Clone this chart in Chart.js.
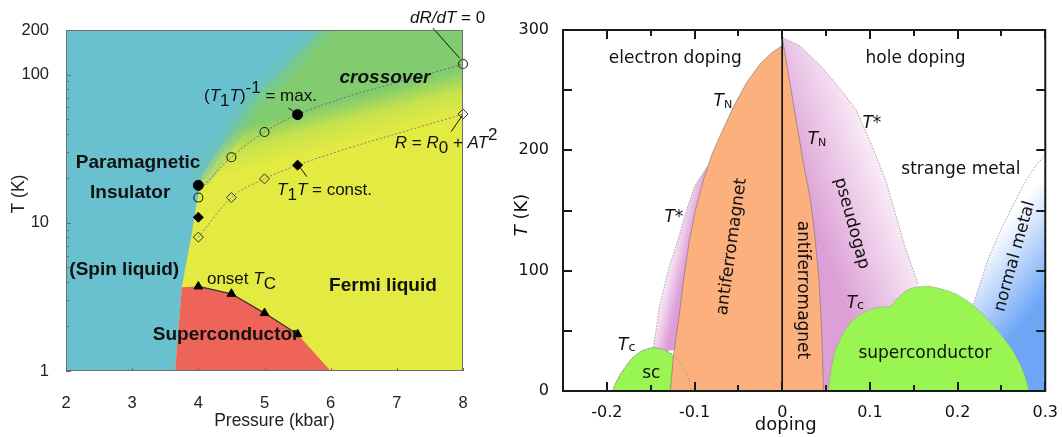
<!DOCTYPE html>
<html>
<head>
<meta charset="utf-8">
<script src="https://cdn.jsdelivr.net/npm/chart.js@4.4.1/dist/chart.umd.min.js"></script>
<style>
  body { margin: 0; background: #fff; }
  #left { position: absolute; left: 0; top: 0; width: 505px; height: 437px; }
  #right { position: absolute; left: 505px; top: 0; width: 557px; height: 437px; }
</style>
</head>
<body>
<div id="left"><canvas id="chartLeft"></canvas></div>
<div id="right"><canvas id="chartRight"></canvas></div>
<script>
const FONT_L = "'Liberation Sans', Arial, sans-serif";
const FONT_R = "'DejaVu Sans', sans-serif";

// ---------- left panel : pressure (kbar) vs T (K), log ----------
const pressureTicks = [2, 3, 4, 5, 6, 7, 8];
const tempTicksLog = [1, 10, 100, 200];
const tempMinorLog = [2, 3, 4, 5, 6, 7, 8, 9, 20, 30, 40, 50, 60, 70, 80, 90];

// metallic region (yellow / green), edge along the cyan insulator
const metalP = [3.65, 3.75, 3.9, 3.98, 4.06, 4.35, 4.8, 5.4, 5.85, 8, 8];
const metalT = [1, 3.68, 8.4, 14, 21, 33, 66, 122, 200, 200, 1];
// upper part of that edge is blurred (crossover)
const blurP = [4.06, 4.35, 4.8, 5.4, 5.85, 6.05];
const blurT = [21, 33, 66, 122, 200, 260];
// superconducting region (red)
const scP = [3.65, 3.75, 4.0, 4.5, 5.0, 5.5, 6.0];
const scT = [1, 3.68, 3.72, 3.32, 2.46, 1.77, 1];

// measured points
const openCircleP = [4, 4.5, 5, 8];
const openCircleT = [14.8, 27.7, 41, 118];
const fullCircleP = [4, 5.5];
const fullCircleT = [17.9, 53.7];
const openDiamondP = [4, 4.5, 5, 8];
const openDiamondT = [8.0, 14.8, 19.8, 54.2];
const fullDiamondP = [4, 5.5];
const fullDiamondT = [10.9, 24.5];
const onsetTcP = [4, 4.5, 5, 5.5];
const onsetTcT = [3.72, 3.32, 2.46, 1.77];

// dotted guide lines
const guideUpP = [4, 4.5, 5, 5.5, 8];
const guideUpT = [16.3, 27.7, 41, 53.7, 118];
const guideLowP = [4, 4.5, 5, 5.5, 8];
const guideLowT = [8.0, 14.8, 19.8, 24.5, 54.2];

// pointer lines from labels to markers
const pointerP = [[7.545, 7.95], [5.36, 5.48], [5.64, 5.51], [7.82, 7.995]];
const pointerT = [[206, 129], [59.5, 55], [20.5, 24.5], [41.2, 53.4]];

// ---------- right panel : doping vs T (K) ----------
const dopingTicks = [-0.2, -0.1, 0, 0.1, 0.2, 0.3];
const dopingMinor = [-0.25, -0.15, -0.05, 0.05, 0.15, 0.25];
const tempTicksLin = [0, 100, 200, 300];
const tempMinorLin = [50, 150, 250];

const afmElecX = [-0.1275, -0.124, -0.118, -0.112, -0.106, -0.099, -0.09, -0.08, -0.069, -0.055, -0.04, -0.025, -0.012, 0, 0];
const afmElecT = [0, 30, 60, 95, 125, 150, 175, 197, 215, 237, 257, 272, 281, 287, 0];
const afmHoleX = [0, 0.012, 0.024, 0.032, 0.037, 0.042, 0.045, 0.047, 0];
const afmHoleT = [294, 242, 190, 160, 130, 92, 50, 0, 0];

const domeElecX = [-0.1935, -0.19, -0.184, -0.177, -0.1695, -0.16, -0.1468, -0.135, -0.1244, -0.117, -0.111, -0.106, -0.104];
const domeElecT = [0, 6.5, 14.7, 22, 28.5, 33.5, 36.3, 34.5, 30, 24.5, 17.5, 9, 0];
const domeHoleX = [0.0526, 0.056, 0.06, 0.0654, 0.072, 0.08, 0.09, 0.099, 0.11, 0.1236, 0.13, 0.1404, 0.15, 0.157, 0.1675, 0.1775, 0.19, 0.2, 0.215, 0.23, 0.2485, 0.262, 0.271, 0.277, 0.2815];
const domeHoleT = [0, 20, 33, 42, 51, 59, 64, 67.3, 69.5, 70, 76, 83, 86, 86.7, 87, 85.5, 83, 80, 73, 63, 48, 35, 23, 12, 0];

const pgElecX = [-0.1468, -0.143, -0.14, -0.134, -0.129, -0.119, -0.111, -0.1, -0.085, -0.09, -0.11, -0.135];
const pgElecT = [36.3, 55, 70, 88, 103, 125, 146, 170, 187, 120, 35, 33];
const pgHoleX = [0, 0.02, 0.044, 0.065, 0.084, 0.1, 0.118, 0.14, 0.155, 0.155, 0];
const pgHoleT = [294, 287, 270, 252, 234, 208, 175, 120, 89, 0, 0];
const nmX = [0.218, 0.235, 0.25, 0.265, 0.278, 0.29, 0.3, 0.3, 0.218];
const nmT = [72, 110, 135, 157, 175, 188, 196, 0, 0];

function pts(xs, ys) { return xs.map((x, i) => ({x: x, y: ys[i]})); }

function drawRuns(ctx, x, y, runs, size, family, align, rot) {
  let parts = [], w = 0;
  runs.forEach(r => {
    const font = (r[1] || '') + ' ' + (size * (r[2] || 1)) + 'px ' + family;
    ctx.font = font;
    const mw = ctx.measureText(r[0]).width;
    parts.push({t: r[0], font: font, w: mw, dy: r[3] || 0});
    w += mw;
  });
  ctx.save();
  ctx.translate(x, y);
  if (rot) ctx.rotate(rot * Math.PI / 180);
  let cx = align === 'center' ? -w / 2 : 0;
  const base = align === 'center' ? size * 0.36 : 0;
  ctx.textAlign = 'left';
  ctx.textBaseline = 'alphabetic';
  parts.forEach(p => { ctx.font = p.font; ctx.fillText(p.t, cx, base + p.dy); cx += p.w; });
  ctx.restore();
}

function gradientFill(p0, p1, stops, fallback) {
  return function(c) {
    const chart = c.chart;
    if (!chart.chartArea) return fallback;
    const xs = chart.scales.x, ys = chart.scales.y;
    const g = chart.ctx.createLinearGradient(
      xs.getPixelForValue(p0[0]), ys.getPixelForValue(p0[1]),
      xs.getPixelForValue(p1[0]), ys.getPixelForValue(p1[1]));
    stops.forEach((s, i) => g.addColorStop(i / (stops.length - 1), s));
    return g;
  };
}

// ---------- left chart ----------
const leftBold = ['Paramagnetic', 'Insulator', '(Spin liquid)', 'Fermi liquid', 'Superconductor'];
const leftBoldP = [3.09, 2.97, 2.88, 6.79, 4.42];
const leftBoldT = [26.1, 16.4, 4.95, 3.87, 1.80];

const leftDecor = {
  id: 'leftDecor',
  beforeDatasetsDraw(chart) {
    const {ctx, chartArea: a} = chart;
    ctx.save();
    ctx.fillStyle = '#69c1d0';
    ctx.fillRect(a.left, a.top, a.right - a.left, a.bottom - a.top);
    ctx.restore();
  },
  afterDraw(chart) {
    const {ctx, chartArea: a, scales: {x, y}} = chart;
    ctx.save();
    ctx.strokeStyle = '#6e6e6e';
    ctx.lineWidth = 1;
    ctx.beginPath();
    tempTicksLog.slice(0, 3).forEach(v => { const py = Math.round(y.getPixelForValue(v)) + 0.5; ctx.moveTo(a.left, py); ctx.lineTo(a.left + 5, py); });
    tempMinorLog.forEach(v => { const py = Math.round(y.getPixelForValue(v)) + 0.5; ctx.moveTo(a.left, py); ctx.lineTo(a.left + 3, py); });
    pressureTicks.forEach(v => { const px = Math.round(x.getPixelForValue(v)) + 0.5; ctx.moveTo(px, a.bottom); ctx.lineTo(px, a.bottom - 3); });
    ctx.stroke();
    ctx.strokeRect(a.left + 0.5, a.top + 0.5, a.right - a.left - 1, a.bottom - a.top - 1);

    ctx.fillStyle = '#111';
    leftBold.forEach((t, i) => drawRuns(ctx, x.getPixelForValue(leftBoldP[i]), y.getPixelForValue(leftBoldT[i]), [[t, 'bold']], 19, FONT_L, 'center'));
    drawRuns(ctx, x.getPixelForValue(6.82), y.getPixelForValue(98), [['crossover', 'italic bold']], 19, FONT_L, 'center');
    const s = 17;
    drawRuns(ctx, x.getPixelForValue(7.2), y.getPixelForValue(223), [['dR/dT', 'italic'], [' = 0']], s, FONT_L, 'left');
    drawRuns(ctx, x.getPixelForValue(4.086), y.getPixelForValue(66), [['('], ['T', 'italic'], ['1', '', 1, 5], ['T', 'italic'], [')'], ['-1', '', 1, -8], [' = max.']], s, FONT_L, 'left');
    drawRuns(ctx, x.getPixelForValue(5.19), y.getPixelForValue(15.4), [['T', 'italic'], ['1', '', 1, 5], ['T', 'italic'], [' = const.']], s, FONT_L, 'left');
    drawRuns(ctx, x.getPixelForValue(6.97), y.getPixelForValue(32), [['R', 'italic'], [' = '], ['R', 'italic'], ['0', '', 1, 5], [' + '], ['AT', 'italic'], ['2', '', 1, -8]], s, FONT_L, 'left');
    drawRuns(ctx, x.getPixelForValue(4.13), y.getPixelForValue(3.87), [['onset '], ['T', 'italic'], ['C', '', 1, 5]], s, FONT_L, 'left');

    ctx.fillStyle = '#222';
    drawRuns(ctx, x.getPixelForValue(5.15), a.bottom + 49, [['Pressure (kbar)']], 17.5, FONT_L, 'center');
    drawRuns(ctx, 18, 194, [['T (K)']], 17.5, FONT_L, 'center', -90);
    ctx.restore();
  }
};

const leftSets = [
  {data: pts(metalP, metalT), showLine: true, fill: 'shape', pointRadius: 0, borderWidth: 0,
   backgroundColor: gradientFill([6.29, 34], [6.12, 66], ['#e3ea42', '#c9e34c', '#80cc6e'], '#e3ea42')},
  {data: pts(blurP, blurT), showLine: true, pointRadius: 0, borderWidth: 22, borderColor: 'rgba(112,198,170,0.35)', borderCapStyle: 'round', borderJoinStyle: 'round'},
  {data: pts(blurP, blurT), showLine: true, pointRadius: 0, borderWidth: 9, borderColor: 'rgba(112,198,170,0.45)', borderCapStyle: 'round', borderJoinStyle: 'round'},
  {data: pts(scP, scT), showLine: true, fill: 'shape', pointRadius: 0, borderWidth: 0, backgroundColor: '#ef6459'},
  {data: pts(guideUpP, guideUpT), showLine: true, pointRadius: 0, borderWidth: 1, borderColor: '#6e6e6e', borderDash: [2, 2], cubicInterpolationMode: 'monotone'},
  {data: pts(guideLowP, guideLowT), showLine: true, pointRadius: 0, borderWidth: 1, borderColor: '#808080', borderDash: [2, 2], cubicInterpolationMode: 'monotone'},
  {data: pts(onsetTcP, onsetTcT), showLine: true, pointRadius: 0, borderWidth: 1.3, borderColor: '#333'}
];
pointerP.forEach((p, i) => leftSets.push({data: pts(p, pointerT[i]), showLine: true, pointRadius: 0, borderWidth: 1, borderColor: '#111', clip: false}));
leftSets.push(
  {data: pts(openCircleP, openCircleT), pointStyle: 'circle', pointRadius: 4.5, pointBorderWidth: 1.1, pointBorderColor: '#222', pointBackgroundColor: 'rgba(0,0,0,0)', clip: false},
  {data: pts(fullCircleP, fullCircleT), pointStyle: 'circle', pointRadius: 5, pointBorderWidth: 1, pointBorderColor: '#000', pointBackgroundColor: '#000'},
  {data: pts(openDiamondP, openDiamondT), pointStyle: 'rectRot', pointRadius: 5, pointBorderWidth: 1, pointBorderColor: '#333', pointBackgroundColor: 'rgba(0,0,0,0)', clip: false},
  {data: pts(fullDiamondP, fullDiamondT), pointStyle: 'rectRot', pointRadius: 5, pointBorderWidth: 1, pointBorderColor: '#000', pointBackgroundColor: '#000'},
  {data: pts(onsetTcP, onsetTcT), pointStyle: 'triangle', pointRadius: 5, pointBorderWidth: 1, pointBorderColor: '#000', pointBackgroundColor: '#000'}
);
leftSets.forEach((d, i) => { d.order = leftSets.length - i; });

new Chart(document.getElementById('chartLeft'), {
  type: 'scatter',
  data: {datasets: leftSets},
  options: {
    responsive: true, maintainAspectRatio: false, animation: false, events: [],
    layout: {padding: {left: 0, top: 30, right: 42, bottom: 0}},
    plugins: {legend: {display: false}, tooltip: {enabled: false}},
    scales: {
      x: {
        type: 'linear', min: 2, max: 8,
        grid: {display: false}, border: {display: false},
        afterBuildTicks: ax => { ax.ticks = pressureTicks.map(v => ({value: v})); },
        afterFit: ax => { ax.height = 66; },
        ticks: {autoSkip: false, maxRotation: 0, padding: 15, color: '#222', font: {family: FONT_L, size: 16.5}}
      },
      y: {
        type: 'logarithmic', min: 1, max: 200,
        grid: {display: false}, border: {display: false},
        afterBuildTicks: ax => { ax.ticks = tempTicksLog.map(v => ({value: v})); },
        afterFit: ax => { ax.width = 66; },
        ticks: {autoSkip: false, padding: 9, color: '#222', font: {family: FONT_L, size: 16.5}, callback: v => String(v)}
      }
    }
  },
  plugins: [leftDecor]
});

// ---------- right chart ----------
const rightPlain = ['electron doping', 'hole doping', 'strange metal', 'sc', 'superconductor'];
const rightPlainX = [-0.1219, 0.152, 0.2038, -0.1493, 0.1627];
const rightPlainT = [277.6, 277.6, 185.3, 15.8, 32.8];
const rightRot = ['antiferromagnet', 'antiferromagnet', 'pseudogap', 'normal metal'];
const rightRotX = [-0.0593, 0.0249, 0.0811, 0.2634];
const rightRotT = [120.1, 83.9, 139.6, 112.2];
const rightRotAngle = [-82, 90, 74.5, -74.5];

const rightDecor = {
  id: 'rightDecor',
  afterDraw(chart) {
    const {ctx, chartArea: a, scales: {x, y}} = chart;
    ctx.save();
    ctx.strokeStyle = '#1a1a1a';
    ctx.lineWidth = 2;
    ctx.beginPath();
    const xt = (v, len) => { const px = Math.round(x.getPixelForValue(v)); ctx.moveTo(px, a.bottom); ctx.lineTo(px, a.bottom - len); ctx.moveTo(px, a.top); ctx.lineTo(px, a.top + len); };
    const yt = (v, len) => { const py = Math.round(y.getPixelForValue(v)); ctx.moveTo(a.left, py); ctx.lineTo(a.left + len, py); ctx.moveTo(a.right, py); ctx.lineTo(a.right - len, py); };
    dopingTicks.forEach(v => xt(v, 9));
    dopingMinor.forEach(v => xt(v, 6));
    tempTicksLin.forEach(v => yt(v, 9));
    tempMinorLin.forEach(v => yt(v, 9));
    ctx.stroke();
    ctx.strokeRect(a.left, a.top, a.right - a.left, a.bottom - a.top);

    ctx.fillStyle = '#111';
    const s = 17;
    rightPlain.forEach((t, i) => drawRuns(ctx, x.getPixelForValue(rightPlainX[i]), y.getPixelForValue(rightPlainT[i]), [[t]], s, FONT_R, 'center'));
    rightRot.forEach((t, i) => drawRuns(ctx, x.getPixelForValue(rightRotX[i]), y.getPixelForValue(rightRotT[i]), [[t]], s, FONT_R, 'center', rightRotAngle[i]));
    const tn = [['T', 'italic'], ['N', '', 0.65, 2]];
    const ts = [['T', 'italic'], ['*']];
    const tc = [['T', 'italic'], ['c', '', 0.75, 1]];
    drawRuns(ctx, x.getPixelForValue(-0.0677), y.getPixelForValue(241.8), tn, s, FONT_R, 'center');
    drawRuns(ctx, x.getPixelForValue(0.0397), y.getPixelForValue(210), tn, s, FONT_R, 'center');
    drawRuns(ctx, x.getPixelForValue(0.1023), y.getPixelForValue(223.8), ts, s, FONT_R, 'center');
    drawRuns(ctx, x.getPixelForValue(-0.1236), y.getPixelForValue(145.4), ts, s, FONT_R, 'center');
    drawRuns(ctx, x.getPixelForValue(-0.1773), y.getPixelForValue(39.1), tc, s, FONT_R, 'center');
    drawRuns(ctx, x.getPixelForValue(0.0834), y.getPixelForValue(74), tc, s, FONT_R, 'center');

    drawRuns(ctx, x.getPixelForValue(0.004), a.bottom + 33, [['doping']], 18, FONT_R, 'center');
    drawRuns(ctx, 16, 215, [['T', 'italic'], [' (K)']], 18, FONT_R, 'center', -90);
    ctx.restore();
  }
};

const region = (xs, ys, bg, border, dash) => ({
  data: pts(xs, ys), showLine: true, fill: 'shape', pointRadius: 0,
  backgroundColor: bg, borderColor: border || 'rgba(0,0,0,0)', borderWidth: border ? 0.8 : 0, borderDash: dash || []
});
const outline = (xs, ys, color, dash) => ({data: pts(xs, ys), showLine: true, pointRadius: 0, borderWidth: 1, borderColor: color, borderDash: dash || []});

const rightSets = [
  region(nmX, nmT, gradientFill([0.232, 120], [0.3, 80], ['#ffffff', '#6ea6f6'], '#a8c8f8')),
  region(pgElecX, pgElecT, gradientFill([-0.129, 103], [-0.111, 100], ['#f8e8f5', '#dd9dd7'], '#e8bce4')),
  region(pgHoleX, pgHoleT, gradientFill([0.035, 140], [0.125, 165], ['#dc9fd6', '#faedf7'], '#e8bce4')),
  region(domeElecX, domeElecT, '#99f551', '#9a9a9a', [2, 1]),
  region(domeHoleX, domeHoleT, '#99f551', '#9a9a9a', [2, 1]),
  region(afmElecX, afmElecT, '#fbb07e', 'rgba(110,110,110,0.7)'),
  region(afmHoleX, afmHoleT, '#fbb07e', 'rgba(110,110,110,0.7)'),
  outline(domeElecX, domeElecT, '#a0a0a0', [2, 1.5]),
  outline(pgElecX.slice(0, 9), pgElecT.slice(0, 9), '#a0a0a0', [1.5, 1.5]),
  outline(pgHoleX.slice(0, 9), pgHoleT.slice(0, 9), '#a0a0a0', [1.5, 1.5]),
  outline(nmX.slice(0, 7), nmT.slice(0, 7), '#a0a0a0', [1.5, 1.5]),
  {data: pts([0, 0], [0, 300]), showLine: true, pointRadius: 0, borderWidth: 1.6, borderColor: '#111'}
];
rightSets.forEach((d, i) => { d.order = rightSets.length - i; });

new Chart(document.getElementById('chartRight'), {
  type: 'scatter',
  data: {datasets: rightSets},
  options: {
    responsive: true, maintainAspectRatio: false, animation: false, events: [],
    layout: {padding: {left: 0, top: 30, right: 10, bottom: 0}},
    plugins: {legend: {display: false}, tooltip: {enabled: false}},
    scales: {
      x: {
        type: 'linear', min: -0.25, max: 0.3,
        grid: {display: false}, border: {display: false},
        afterBuildTicks: ax => { ax.ticks = dopingTicks.map(v => ({value: v})); },
        afterFit: ax => { ax.height = 46; },
        ticks: {autoSkip: false, maxRotation: 0, padding: 4, color: '#111', font: {family: FONT_R, size: 16},
                callback: v => (Math.abs(v) < 1e-9 ? '0' : v.toFixed(1))}
      },
      y: {
        type: 'linear', min: 0, max: 300,
        grid: {display: false}, border: {display: false},
        afterBuildTicks: ax => { ax.ticks = tempTicksLin.map(v => ({value: v})); },
        afterFit: ax => { ax.width = 58; },
        ticks: {autoSkip: false, padding: 6, color: '#111', font: {family: FONT_R, size: 16}}
      }
    }
  },
  plugins: [rightDecor]
});
</script>
</body>
</html>
